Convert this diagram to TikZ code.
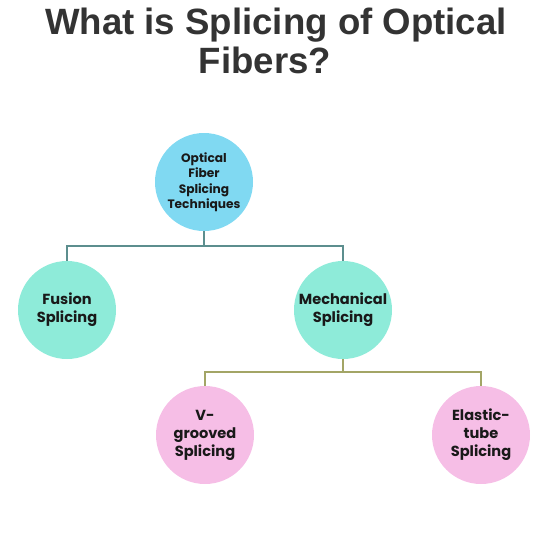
\documentclass[tikz,border=0pt]{standalone}
\usepackage{fontspec}
\setmainfont{Liberation Sans}
\newfontfamily\bubblefont{Poppins}
\definecolor{rootblue}{HTML}{80D9F2}
\definecolor{midgreen}{HTML}{8EEBD9}
\definecolor{leafpink}{HTML}{F6BEE6}
\definecolor{upline}{HTML}{5C8E8E}
\definecolor{lowline}{HTML}{A3A566}
\definecolor{titlegray}{HTML}{333333}

\begin{document}
\begin{tikzpicture}[x=1pt, y=-1pt,
  bubble/.style={circle, minimum size=98pt, inner sep=0pt, align=center,
    text=black!90, font=\bubblefont\bfseries\fontsize{14.6}{18}\selectfont},
  wire/.style={line width=1.4pt}]
\useasboundingbox (0,0) rectangle (550,550);
% title
\node[text=titlegray, font=\bfseries\fontsize{36.6}{40}\selectfont, anchor=base] (t1) at (276,34) {What is Splicing of Optical};
\node[text=titlegray, font=\bfseries\fontsize{36.6}{40}\selectfont, anchor=base] (t2) at (265,73) {Fibers?};
% circles
\node[bubble, fill=rootblue, font=\bubblefont\bfseries\fontsize{12.2}{15.5}\selectfont] (root) at (204,182) {Optical\\Fiber\\Splicing\\Techniques};
\node[bubble, fill=midgreen] (fusion) at (67,310) {Fusion\\Splicing};
\node[bubble, fill=midgreen] (mech) at (343,310) {Mechanical\\Splicing};
\node[bubble, fill=leafpink] (vgroove) at (205,435) {V-\\grooved\\Splicing};
\node[bubble, fill=leafpink] (elastic) at (481,435) {Elastic-\\tube\\Splicing};
% connectors
\coordinate (bus1) at (204,246);
\coordinate (bus2) at (343,372);
\draw[wire, upline] (root) -- (bus1) -| (fusion);
\draw[wire, upline] (bus1) -| (mech);
\draw[wire, lowline] (mech) -- (bus2) -| (vgroove);
\draw[wire, lowline] (bus2) -| (elastic);
\end{tikzpicture}
\end{document}
